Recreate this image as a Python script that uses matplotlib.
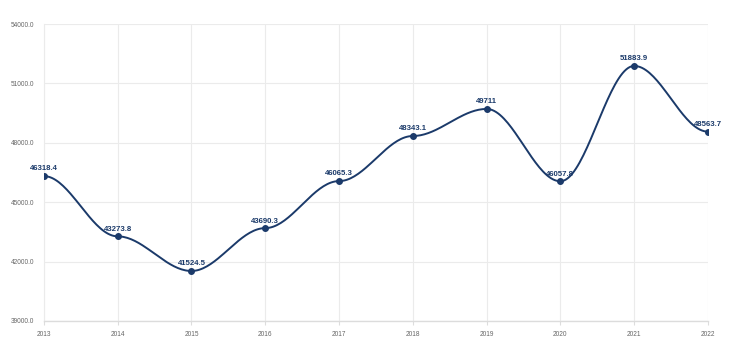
import numpy as np
import matplotlib.pyplot as plt

years = [2013, 2014, 2015, 2016, 2017, 2018, 2019, 2020, 2021, 2022]
values = [46318.4, 43273.8, 41524.5, 43690.3, 46065.3, 48343.1, 49711, 46057.8, 51883.9, 48563.7]
labels = ["46318.4", "43273.8", "41524.5", "43690.3", "46065.3", "48343.1", "49711", "46057.8", "51883.9", "48563.7"]
y_ticks = [39000, 42000, 45000, 48000, 51000, 54000]

LINE = "#1b3a6a"
GRID = "#ebebeb"

plt.rcParams["font.family"] = ["Liberation Sans", "DejaVu Sans"]


def smooth_curve(xs, ys, k=0.35, n=40):
    # cubic bezier per segment, horizontal control arms
    xs = np.asarray(xs, float)
    ys = np.asarray(ys, float)
    t = np.linspace(0, 1, n)
    out_x, out_y = [], []
    for i in range(len(xs) - 1):
        h = (xs[i + 1] - xs[i]) * k
        p0 = np.array([xs[i], ys[i]])
        p1 = np.array([xs[i] + h, ys[i]])
        p2 = np.array([xs[i + 1] - h, ys[i + 1]])
        p3 = np.array([xs[i + 1], ys[i + 1]])
        pts = ((1 - t) ** 3)[:, None] * p0 + (3 * (1 - t) ** 2 * t)[:, None] * p1 \
            + (3 * (1 - t) * t ** 2)[:, None] * p2 + (t ** 3)[:, None] * p3
        out_x.extend(pts[:, 0])
        out_y.extend(pts[:, 1])
    return np.array(out_x), np.array(out_y)


fig = plt.figure(figsize=(7.31, 3.59), dpi=100)
ax = fig.add_axes([0.060, 0.106, 0.9085, 0.827])

x_idx = np.arange(len(years))
cx, cy = smooth_curve(x_idx, values)
ax.plot(cx, cy, color=LINE, lw=1.4, zorder=3)
ax.scatter(x_idx, values, s=16, color=LINE, zorder=4)

for xi, v, lab in zip(x_idx, values, labels):
    ax.annotate(lab, (xi, v), xytext=(0, 2.6), textcoords="offset points",
                ha="center", va="bottom", fontsize=5.6, fontweight="bold",
                color=LINE, zorder=5)

ax.set_xlim(0, len(years) - 1)
ax.set_ylim(39000, 54000)
ax.set_xticks(x_idx)
ax.set_xticklabels([str(y) for y in years])
ax.set_yticks(y_ticks)
ax.set_yticklabels([f"{t:.1f}" for t in y_ticks])
ax.tick_params(axis="both", labelsize=4.7, colors="#666666", length=0, pad=7)
ax.tick_params(axis="x", length=3, color="#dddddd", pad=4)

ax.grid(True, color=GRID, lw=0.8)
ax.set_axisbelow(True)
for s in ["top", "right"]:
    ax.spines[s].set_visible(False)
ax.spines["left"].set_color(GRID)
ax.spines["bottom"].set_color("#dcdcdc")
ax.spines["left"].set_linewidth(0.8)
ax.spines["bottom"].set_linewidth(1.0)

fig.savefig("out.png", dpi=100)
